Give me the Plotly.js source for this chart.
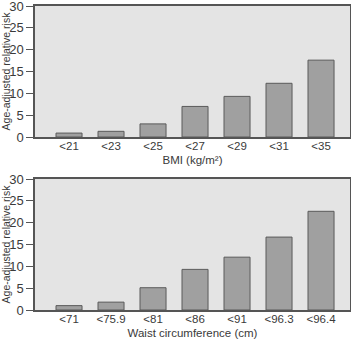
<!DOCTYPE html>
<html><head><meta charset="utf-8">
<script src="https://cdn.plot.ly/plotly-3.0.1.min.js"></script>
<style>html,body{margin:0;padding:0;background:#fff;}#c1{width:351px;height:170px;}#c2{width:351px;height:171px;}</style>
</head><body><div id="c1"></div><div id="c2"></div>
<script>
const bmiCats = ['<21','<23','<25','<27','<29','<31','<35'];
const bmiRisk = [0.9, 1.3, 3.0, 7.0, 9.3, 12.3, 17.6];
const waistCats = ['<71','<75.9','<81','<86','<91','<96.3','<96.4'];
const waistRisk = [1.0, 1.8, 5.1, 9.3, 12.1, 16.7, 22.6];
const yTicks = [0,5,10,15,20,25,30];
const yTitle = 'Age-adjusted relative risk';
const bmiTitle = 'BMI (kg/m²)';
const waistTitle = 'Waist circumference (cm)';

const FONT = '"Liberation Sans", Arial, sans-serif';
const TXT = '#3a3a3a';

function makeLayout(h, t, b, xTitle){
  return {
    width:351, height:h,
    margin:{l:35, r:1, t:t, b:b},
    plot_bgcolor:'#e4e4e4', paper_bgcolor:'#fff',
    showlegend:false,
    xaxis:{type:'category', range:[-0.81, 6.69],
      showline:true, linecolor:'#555', linewidth:1.5, mirror:true,
      ticks:'', showgrid:false, zeroline:false, automargin:false, ticklabelstandoff:-3,
      ticklabeloverflow:'allow',
      tickfont:{family:FONT, size:11.5, color:TXT},
      title:{text:xTitle, standoff:5, font:{family:FONT, size:11.5, color:TXT}}},
    yaxis:{range:[0,30], tickmode:'array', tickvals:yTicks.slice(),
      showline:true, linecolor:'#555', linewidth:1.5, mirror:true, automargin:false,
      ticks:'outside', ticklen:7, tickcolor:'#555', tickwidth:1, showgrid:false, zeroline:false,
      showticklabels:true, ticklabeloverflow:'allow',
      tickfont:{family:FONT, size:13, color:TXT},
      title:{text:yTitle, standoff:0, font:{family:FONT, size:10.5, color:TXT}}}
  };
}
function makeTrace(x, y){
  return [{type:'bar', x:x, y:y, width:0.62, hoverinfo:'none',
    marker:{color:'#a0a0a0', line:{color:'#5a5a5a', width:1}}}];
}
const cfg = {displayModeBar:false};
function drawTop(){ return Plotly.newPlot('c1', makeTrace(bmiCats, bmiRisk), makeLayout(170, 6, 33, bmiTitle), cfg); }
function drawBottom(){ return Plotly.newPlot('c2', makeTrace(waistCats, waistRisk), makeLayout(171, 9, 31, waistTitle), cfg); }
function drawAll(){
  return drawTop().then(drawBottom);
}
const fontsReady = (document.fonts && document.fonts.load) ?
  Promise.all([document.fonts.load('13px "Liberation Sans"'), document.fonts.load('11px "Liberation Sans"')]) : Promise.resolve();
fontsReady.then(drawAll, drawAll);
</script></body></html>
